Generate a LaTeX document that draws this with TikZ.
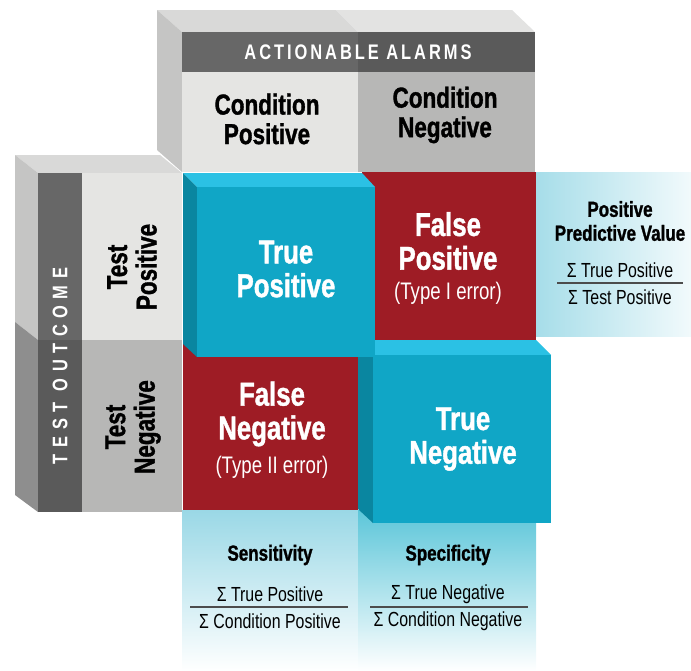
\documentclass[tikz,border=0pt]{standalone}
\usepackage{fontspec}
\setmainfont[FakeStretch=0.78,BoldFeatures={FakeBold=1.2}]{Liberation Sans}
\newfontfamily\bandfont[FakeStretch=0.78,LetterSpace=14]{Liberation Sans}
\newfontfamily\sidefont[FakeStretch=0.78,LetterSpace=31]{Liberation Sans}

\definecolor{tealfront}{HTML}{10A6C6}
\definecolor{tealtop}{HTML}{2BC1E4}
\definecolor{tealside}{HTML}{0A86A0}
\definecolor{errred}{HTML}{9E1C25}
\definecolor{celllight}{HTML}{E5E5E3}
\definecolor{celldark}{HTML}{B7B7B6}
\definecolor{bandgray}{HTML}{676767}
\definecolor{banddark}{HTML}{5A5A5A}
\definecolor{topface}{HTML}{D9D9D8}
\definecolor{topfacelt}{HTML}{E3E3E2}
\definecolor{sidelight}{HTML}{C5C5C4}
\definecolor{sidedark}{HTML}{8E8E8E}
\definecolor{sensblue}{HTML}{9AD8E6}
\definecolor{specblue}{HTML}{5CC6D9}
\definecolor{ppvblue}{HTML}{A6DDE9}

\begin{document}
\begin{tikzpicture}[x=0.025cm, y=-0.025cm,
  boxlabel/.style={text=white, font=\bfseries\fontsize{23.5}{24}\selectfont, align=center},
  errnote/.style={text=white, font=\fontsize{17}{18}\selectfont},
  celllabel/.style={font=\bfseries\fontsize{20.5}{21}\selectfont, align=center},
  bandlabel/.style={text=white, font=\bandfont\bfseries\fontsize{15}{16}\selectfont},
  sidelabel/.style={text=white, font=\sidefont\bfseries\fontsize{15}{16}\selectfont, rotate=90},
  ratiotitle/.style={font=\bfseries\fontsize{15.5}{17}\selectfont, align=center},
  ratioterm/.style={font=\fontsize{14.5}{16}\selectfont},
  ratioline/.style={line width=0.8pt, black!70}]
\useasboundingbox (0,0) rectangle (691,671);

% ratio panels
\shade[top color=sensblue, bottom color=white] (182,510) rectangle (358,671);
\shade[top color=specblue, bottom color=white] (358,510) rectangle (536,671);
\shade[left color=ppvblue, right color=ppvblue!15] (535,172) rectangle (691,336);

% condition block
\fill[topface] (157,10) -- (336,10) -- (358,32) -- (182,32) -- cycle;
\fill[topfacelt] (336,10) -- (512,10) -- (535,32) -- (358,32) -- cycle;
\fill[sidelight] (157,10) -- (182,32) -- (182,172) -- (157,150) -- cycle;
\fill[bandgray] (182,32) rectangle (358,72);
\fill[banddark] (358,32) rectangle (535,72);
\fill[celllight] (182,72) rectangle (358,172);
\fill[celldark] (358,72) rectangle (535,172);

% test block
\fill[topface] (15,155) -- (160,155) -- (182,173) -- (38,173) -- cycle;
\fill[sidelight] (15,155) -- (38,173) -- (38,340) -- (15,322) -- cycle;
\fill[sidedark] (15,322) -- (38,340) -- (38,512) -- (15,495) -- cycle;
\fill[bandgray] (38,173) rectangle (82,340);
\fill[banddark] (38,340) rectangle (82,512);
\fill[celllight] (82,173) rectangle (182,340);
\fill[celldark] (82,340) rectangle (182,512);

% error cells
\fill[errred] (362,172) rectangle (536,340);
\fill[errred] (183,344) rectangle (358,510);

% true negative box
\fill[tealtop] (358,340) -- (536,340) -- (551,355) -- (373,355) -- cycle;
\fill[tealside] (358,340) -- (373,355) -- (373,523) -- (358,509) -- cycle;
\fill[tealfront] (373,355) rectangle (551,523);

% true positive box
\fill[tealtop] (183,173) -- (362,173) -- (375,187) -- (197,187) -- cycle;
\fill[tealside] (183,173) -- (197,187) -- (197,357) -- (183,344) -- cycle;
\fill[tealfront] (197,187) rectangle (375,357);

% headers
\node[bandlabel] (alarms) at (358,52) {ACTIONABLE ALARMS};
\node[celllabel] (condpos) at (267,119) {Condition\\Positive};
\node[celllabel] (condneg) at (445,115) {Condition\\Negative};
\node[sidelabel] (outcome) at (60,366) {TEST OUTCOME};
\node[celllabel, rotate=90] (testpos) at (132,267) {Test\\Positive};
\node[celllabel, rotate=90] (testneg) at (133,427) {Test\\Negative};

% outcomes
\node[boxlabel] (truepos) at (286,269) {True\\Positive};
\node[boxlabel] (falsepos) at (448,241) {False\\Positive};
\node[errnote] (typeone) at (448,293) {(Type I error)};
\node[boxlabel] (falseneg) at (272,414) {False\\Negative};
\node[errnote] (typetwo) at (272,467) {(Type II error)};
\node[boxlabel] (trueneg) at (463,439) {True\\Negative};

% ratios
\node[ratiotitle] (sens) at (270,555) {Sensitivity};
\node[ratioterm] (sensnum) at (270,594) {Σ True Positive};
\node[ratioterm] (sensden) at (270,621) {Σ Condition Positive};
\coordinate (sensL) at (190,607);
\coordinate (sensR) at (348,607);
\draw[ratioline] (sensL) -- (sensR);

\node[ratiotitle] (spec) at (448,555) {Specificity};
\node[ratioterm] (specnum) at (448,594) {Σ True Negative};
\node[ratioterm] (specden) at (448,621) {Σ Condition Negative};
\coordinate (specL) at (370,607);
\coordinate (specR) at (528,607);
\draw[ratioline] (specL) -- (specR);

\node[ratiotitle] (ppv) at (620,221) {Positive\\Predictive Value};
\node[ratioterm] (ppvnum) at (620,270) {Σ True Positive};
\node[ratioterm] (ppvden) at (620,297) {Σ Test Positive};
\coordinate (ppvL) at (557,283);
\coordinate (ppvR) at (683,283);
\draw[ratioline] (ppvL) -- (ppvR);
\end{tikzpicture}
\end{document}
